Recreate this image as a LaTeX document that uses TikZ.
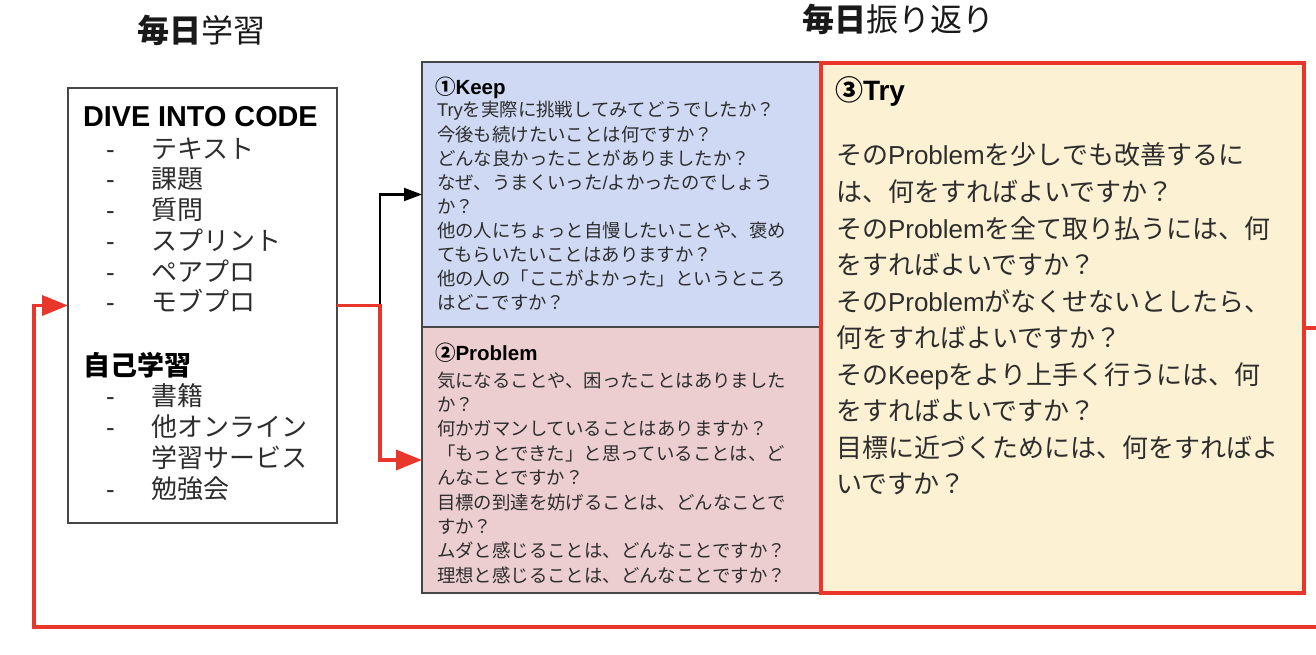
\documentclass[tikz,border=0pt]{standalone}
\usepackage{fontspec}
\setmainfont{Noto Sans CJK JP}
\newfontfamily\lat{Liberation Sans}
\usetikzlibrary{arrows.meta}
\definecolor{keepc}{RGB}{207,217,243}
\definecolor{probc}{RGB}{236,206,209}
\definecolor{tryc}{RGB}{253,241,212}
\definecolor{redc}{RGB}{232,54,42}
\definecolor{edgec}{RGB}{70,70,70}
\definecolor{txtc}{RGB}{45,45,45}
\begin{document}
\begin{tikzpicture}[x=1pt,y=-1pt,
  box/.style={draw=edgec, line width=1.2pt, inner sep=0pt, outer sep=0pt, anchor=north west},
  txt/.style={anchor=base west, inner sep=0pt, outer sep=0pt, text=txtc},
  ttl/.style={txt, text=black!90, font=\fontsize{32}{36}\selectfont},
  kbody/.style={txt, font=\fontsize{18.4}{22}\selectfont},
  khead/.style={txt, text=black, font=\fontsize{20.5}{24}\selectfont\bfseries},
  tbody/.style={txt, font=\fontsize{26}{30}\selectfont},
  thead/.style={txt, text=black, font=\fontsize{28}{32}\selectfont\bfseries},
  dhead/.style={txt, text=black, font=\fontsize{28.8}{32}\selectfont\bfseries},
  ditem/.style={txt, font=\fontsize{26}{30}\selectfont},
  redline/.style={draw=redc, line width=3.6pt},
  redarrow/.style={redline, -{Triangle[length=26pt,width=20pt]}},
  blackarrow/.style={draw=black, line width=2pt, -{Triangle[length=18pt,width=13pt]}}
]
\useasboundingbox (0,0) rectangle (1316,655);
\fill[white] (0,0) rectangle (1316,655);
\clip (0,0) rectangle (1316,655);

% titles
\node[ttl] (t1) at (137,43) {{\bfseries 毎日}学習};
\node[ttl] (t2) at (802,32) {{\bfseries 毎日}振り返り};

% left box
\node[box, minimum width=269pt, minimum height=435pt] (dive) at (68,88) {};
\node[dhead] (dh) at (83,127) {\lat DIVE INTO CODE};
\foreach \t [count=\i] in {テキスト,課題,質問,スプリント,ペアプロ,モブプロ}{
  \node[ditem] (da\i) at (106,{158.3+(\i-1)*30.7}) {\lat -};
  \node[ditem] (di\i) at (151,{158.3+(\i-1)*30.7}) {\t};
}
\node[dhead, font=\fontsize{27}{32}\selectfont\bfseries] (sh) at (83,375) {自己学習};
\node[ditem] (sa1) at (106,405) {\lat -};
\node[ditem] (si1) at (151,405) {書籍};
\node[ditem] (sa2) at (106,436.3) {\lat -};
\node[ditem] (si2) at (151,436.3) {他オンライン};
\node[ditem] (si3) at (151,467.6) {学習サービス};
\node[ditem] (sa4) at (106,498.3) {\lat -};
\node[ditem] (si4) at (151,498.3) {勉強会};

% Keep box
\node[box, fill=keepc, minimum width=398pt, minimum height=265pt] (keep) at (422,62) {};
\node[khead] (kh) at (435,94.5) {①{\lat Keep}};
\foreach \t [count=\i] in {{{\lat Try}を実際に挑戦してみてどうでしたか？},
  今後も続けたいことは何ですか？,
  どんな良かったことがありましたか？,
  {なぜ、うまくいった{\lat /}よかったのでしょう},
  か？,
  他の人にちょっと自慢したいことや、褒め,
  てもらいたいことはありますか？,
  他の人の「ここがよかった」というところ,
  はどこですか？}{
  \node[kbody] (kl\i) at (437,{117+(\i-1)*24.1}) {\t};
}

% Problem box
\node[box, fill=probc, minimum width=398pt, minimum height=266pt] (prob) at (422,327) {};
\node[khead] (ph) at (435,360.5) {②{\lat Problem}};
\foreach \t [count=\i] in {気になることや、困ったことはありました,
  か？,
  何かガマンしていることはありますか？,
  「もっとできた」と思っていることは、ど,
  んなことですか？,
  目標の到達を妨げることは、どんなことで,
  すか？,
  ムダと感じることは、どんなことですか？,
  理想と感じることは、どんなことですか？}{
  \node[kbody] (pl\i) at (437,{387+(\i-1)*24.4}) {\t};
}

% Try box
\node[box, draw=redc, line width=3.4pt, fill=tryc, minimum width=483pt, minimum height=530pt] (try) at (821,63) {};
\node[thead] (th) at (835,101) {③{\lat Try}};
\foreach \t [count=\i] in {{その{\lat Problem}を少しでも改善するに},
  は、何をすればよいですか？,
  {その{\lat Problem}を全て取り払うには、何},
  をすればよいですか？,
  {その{\lat Problem}がなくせないとしたら、},
  何をすればよいですか？,
  {その{\lat Keep}をより上手く行うには、何},
  をすればよいですか？,
  目標に近づくためには、何をすればよ,
  いですか？}{
  \node[tbody] (tl\i) at (836,{165+(\i-1)*36.5}) {\t};
}

% connectors
\path (dive.east) ++(43,0) coordinate (split);
\draw[blackarrow] (split) |- (keep.west);
\draw[redarrow] (dive.east) -- (split) |- (prob.west);
\coordinate (lr) at (1334,627);
\coordinate (ll) at (34,627);
\draw[redarrow] (try.east) -| (lr) -- (ll) |- (dive.west);
\end{tikzpicture}
\end{document}
